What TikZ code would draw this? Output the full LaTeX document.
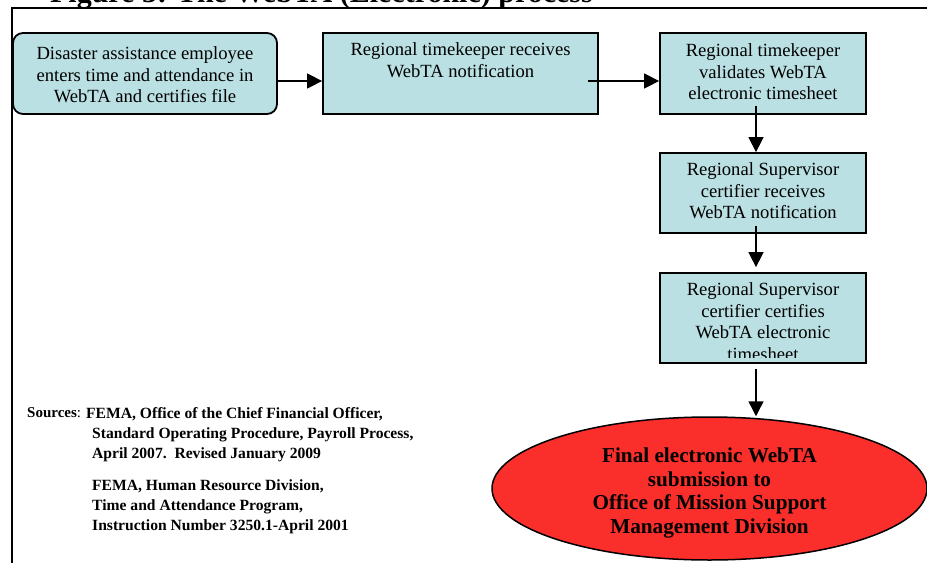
\documentclass[tikz,border=0pt]{standalone}
\usepackage{fontspec}
\setmainfont{Liberation Serif}
\usetikzlibrary{arrows.meta,shapes.geometric}
\definecolor{boxfill}{RGB}{186,224,227}
\definecolor{ellred}{RGB}{250,46,42}
\begin{document}
\begin{tikzpicture}[x=1pt,y=-1pt,
  procbox/.style={draw=black,line width=1.8pt,fill=boxfill,rectangle,inner sep=0pt},
  boxtext/.style={inner sep=0pt,align=center,font=\fontsize{18.6}{21.8}\selectfont,anchor=north},
  flow/.style={line width=1.5pt,-{Triangle[length=15pt,width=15pt]}},
  srcfont/.style={font=\bfseries\fontsize{15.6}{20}\selectfont,inner sep=0pt}]
\useasboundingbox (0,0) rectangle (927,563);
% title (cut off by the page edge)
\node[anchor=base east,inner sep=0pt,font=\bfseries\fontsize{30}{30}\selectfont] (title) at (593,2.5) {Figure 3: The WebTA (Electronic) process};
% frame
\coordinate (fbl) at (12,563);
\coordinate (ftl) at (12,7.5);
\coordinate (ftr) at (927,7.5);
\draw[line width=2pt] (fbl) -- (ftl) -- (ftr);
% boxes
\node[procbox,rounded corners=10pt,minimum width=264pt,minimum height=81pt] (b1) at (145,73.5) {};
\node[boxtext] (t1) at ([yshift=-14pt]b1.north) {Disaster assistance employee\\enters time and attendance in\\WebTA and certifies file};
\node[procbox,minimum width=275pt,minimum height=81pt] (b2) at (460.5,73.5) {};
\node[boxtext] (t2) at ([yshift=-10pt]b2.north) {Regional timekeeper receives\\WebTA notification};
\node[procbox,minimum width=206pt,minimum height=81pt] (b3) at (763,73.5) {};
\node[boxtext] (t3) at ([yshift=-11pt]b3.north) {Regional timekeeper\\validates WebTA\\electronic timesheet};
\node[procbox,minimum width=206pt,minimum height=80pt] (b4) at (763,193) {};
\node[boxtext] (t4) at ([yshift=-10pt]b4.north) {Regional Supervisor\\certifier receives\\WebTA notification};
\node[procbox,minimum width=206pt,minimum height=90pt] (b5) at (763,318) {};
\begin{scope}
\clip ([yshift=-2pt]b5.north west) rectangle ([yshift=6.5pt]b5.south east);
\node[boxtext] (t5) at ([yshift=-10pt]b5.north) {Regional Supervisor\\certifier certifies\\WebTA electronic\\timesheet};
\end{scope}
% ellipse
\node[ellipse,draw,line width=1.5pt,fill=ellred,minimum width=435pt,minimum height=143pt,inner sep=0pt] (ell) at (709.5,488.5) {};
\node[font=\bfseries\fontsize{21.2}{23.7}\selectfont,align=center,inner sep=0pt] (et) at ([yshift=-4.5pt]ell.center) {Final electronic WebTA\\submission to\\Office of Mission Support\\Management Division};
% arrows
\draw[flow] ([yshift=-7.5pt]b1.east) -- ([yshift=-7.5pt]b2.west);
\draw[flow] ([xshift=-11pt,yshift=-7.5pt]b2.east) -- ([yshift=-7.5pt]b3.west);
\draw[flow] ([xshift=-7pt,yshift=9pt]b3.south) -- ([xshift=-7pt]b4.north);
\draw[flow] ([xshift=-7pt,yshift=8pt]b4.south) -- ([xshift=-7pt,yshift=5pt]b5.north);
\draw[flow] ([xshift=-7pt,yshift=-5pt]b5.south) -- ([xshift=46.5pt]ell.north);
% sources
\node[anchor=north west,inner sep=0pt,font=\fontsize{15}{20}\selectfont] (srclab) at (27,407.5) {\textbf{Sources}:};
\node[srcfont,anchor=north west,align=left] (src1) at (86,407) {FEMA, Office of the Chief Financial Officer,\\\hspace*{6pt}Standard Operating Procedure, Payroll Process,\\\hspace*{6pt}April 2007.\ \ Revised January 2009};
\node[srcfont,anchor=north west,align=left] (src2) at (92,479) {FEMA, Human Resource Division,\\Time and Attendance Program,\\Instruction Number 3250.1-April 2001};
\end{tikzpicture}
\end{document}
